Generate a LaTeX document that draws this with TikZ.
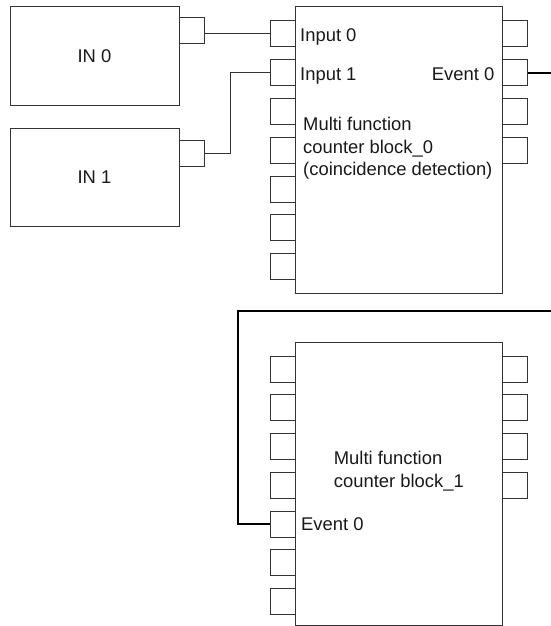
\documentclass[tikz,border=0pt]{standalone}
\usepackage{fontspec}
\setmainfont{Liberation Sans}
\usetikzlibrary{positioning}
\definecolor{cline}{gray}{0.2}
\definecolor{ctext}{gray}{0.1}

\begin{document}
\begin{tikzpicture}[x=1pt, y=-1pt,
  src/.style={draw=cline, line width=1pt, minimum width=169pt, minimum height=98pt, font=\fontsize{18.4}{22.5}\selectfont, text=ctext, inner sep=0pt},
  blk/.style={draw=cline, line width=1pt, minimum width=207pt, inner sep=0pt},
  port/.style={draw=cline, line width=1pt, minimum width=25pt, minimum height=26pt, inner sep=0pt},
  lbl/.style={font=\fontsize{18.4}{22.5}\selectfont, text=ctext, inner sep=0pt, align=left},
  wire/.style={-, line width=1pt, cline},
  bus/.style={-, line width=2pt, black}
]
\useasboundingbox (0,0) rectangle (551,626);
% sources
\node[src] (in0) at (94.5,56) {IN 0};
\node[src] (in1) at (94.5,177) {IN 1};
\node[port] (in0p) at (192,31) {};
\node[port] (in1p) at (192,153) {};
% counter blocks
\node[blk, minimum height=286pt] (b0) at (398.5,150) {};
\node[blk, minimum height=283pt] (b1) at (398.5,483.5) {};
% ports of block_0
\node[port] (b0l1) at (282.5,34) {};
\node[port] (b0l2) at (282.5,72.75) {};
\node[port] (b0l3) at (282.5,111.5) {};
\node[port] (b0l4) at (282.5,150.25) {};
\node[port] (b0l5) at (282.5,189) {};
\node[port] (b0l6) at (282.5,227.75) {};
\node[port] (b0l7) at (282.5,266.5) {};
\node[port] (b0r1) at (515,34) {};
\node[port] (b0r2) at (515,72.75) {};
\node[port] (b0r3) at (515,111.5) {};
\node[port] (b0r4) at (515,150.25) {};
% ports of block_1
\node[port] (b1l1) at (282.5,369) {};
\node[port] (b1l2) at (282.5,407.75) {};
\node[port] (b1l3) at (282.5,446.5) {};
\node[port] (b1l4) at (282.5,485.25) {};
\node[port] (b1l5) at (282.5,524) {};
\node[port] (b1l6) at (282.5,562.75) {};
\node[port] (b1l7) at (282.5,601.5) {};
\node[port] (b1r1) at (515,369) {};
\node[port] (b1r2) at (515,407.75) {};
\node[port] (b1r3) at (515,446.5) {};
\node[port] (b1r4) at (515,485.25) {};
% labels
\node[lbl, anchor=base west] (t0) at (300,42) {Input 0};
\node[lbl, anchor=base west] (t1) at (300,80.5) {Input 1};
\node[lbl, anchor=base east] (t2) at (494.5,80.5) {Event 0};
\node[lbl, anchor=north west] (t3) at (303,117) {Multi function\\counter block\_0\\(coincidence detection)};
\node[lbl, anchor=north west] (t4) at (333.7,451.3) {Multi function\\counter block\_1};
\node[lbl, anchor=base west] (t5) at (301,530) {Event 0};
% wiring
\coordinate (ev0) at (551,72.75);
\coordinate (ev1) at (551,310.5);
\draw[wire] (in0p.east |- b0l1.west) -- (b0l1.west);
\draw[wire] (in1p.east) -- ++(25,0) |- (b0l2.west);
\draw[bus] (b0r2.east) -- (ev0);
\draw[bus] (b1l5.west) -- ++(-32,0) |- (ev1);
\end{tikzpicture}
\end{document}
